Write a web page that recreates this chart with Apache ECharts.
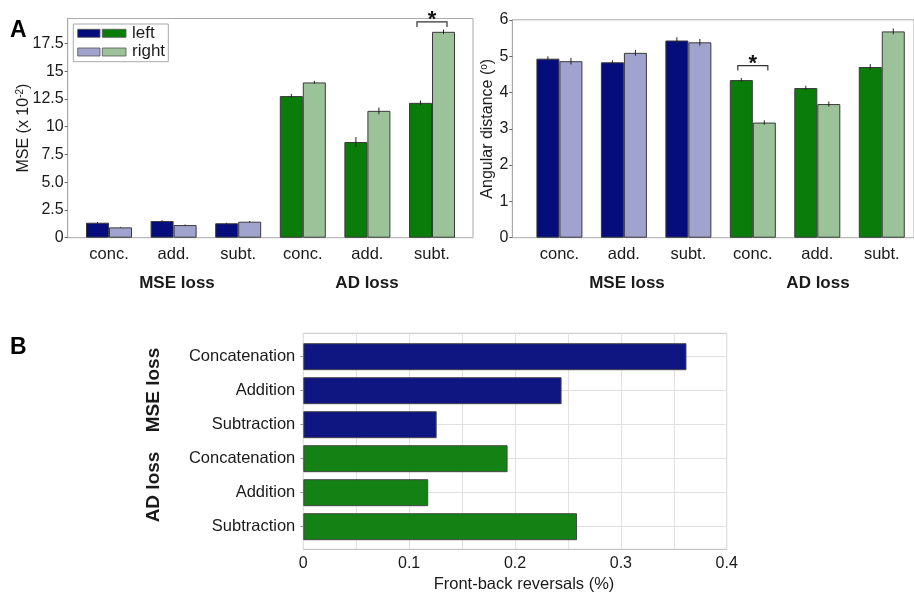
<!DOCTYPE html>
<html>
<head>
<meta charset="utf-8">
<script src="https://cdn.jsdelivr.net/npm/echarts@6/dist/echarts.min.js"></script>
<style>
  html, body { margin: 0; padding: 0; background: #fff; }
  #chart { width: 914px; height: 592px; }
</style>
</head>
<body>
<div id="chart"></div>
<script>
// ---- data ----
const groups = ['conc.', 'add.', 'subt.', 'conc.', 'add.', 'subt.'];
const lossNames = ['MSE loss', 'AD loss'];

// MSE (x 10^-2), left / right ear
const mseLeft = [1.35, 1.50, 1.30, 12.76, 8.62, 12.15];
const mseRight = [0.93, 1.14, 1.44, 13.99, 11.43, 18.55];
const mseLeftErr = [0.06, 0.07, 0.05, 0.20, 0.45, 0.20];
const mseRightErr = [0.04, 0.05, 0.06, 0.14, 0.30, 0.20];
const mseTicks = ['0', '2.5', '5.0', '7.5', '10', '12.5', '15', '17.5'];
const mseSig = [[5, 19.44]];

// Angular distance (deg), left / right ear
const angLeft = [4.93, 4.83, 5.43, 4.34, 4.12, 4.70];
const angRight = [4.86, 5.09, 5.38, 3.17, 3.68, 5.68];
const angLeftErr = [0.065, 0.055, 0.09, 0.06, 0.065, 0.08];
const angRightErr = [0.09, 0.08, 0.09, 0.06, 0.07, 0.08];
const angTicks = ['0', '1', '2', '3', '4', '5', '6'];
const angSig = [[3, 4.74]];

// Front-back reversals (%)
const methods = ['Concatenation', 'Addition', 'Subtraction', 'Concatenation', 'Addition', 'Subtraction'];
const fbr = [0.362, 0.244, 0.126, 0.193, 0.118, 0.2586];
const fbrTicks = ['0', '0.1', '0.2', '0.3', '0.4'];

// ---- styling ----
const FONT = "'Liberation Sans', Arial, sans-serif";
const TXT = '#1a1a1a';
const FRAME = '#a9a9a9';
const NAVY = '#050c7c', NAVY_L = '#a0a3cd';
const GREEN = '#0a7c0a', GREEN_L = '#9cc29a';
const BAR_W = 23;

const leftColor = (p) => (p.dataIndex < 3 ? NAVY : GREEN);
const rightColor = (p) => (p.dataIndex < 3 ? NAVY_L : GREEN_L);

function errRender(offset) {
  return function (params, api) {
    const i = api.value(0), v = api.value(1), e = api.value(2);
    const a = api.coord([i, v + e]), b = api.coord([i, v - e]);
    const x = a[0] + offset;
    return { type: 'line', shape: { x1: x, y1: a[1], x2: x, y2: b[1] },
             style: { stroke: '#222', lineWidth: 1 } };
  };
}
function sigRender(params, api) {
  const p = api.coord([api.value(0), api.value(1)]);
  const hw = 15, leg = 5;
  return { type: 'group', children: [
    { type: 'polyline', shape: { points: [[p[0] - hw, p[1] + leg], [p[0] - hw, p[1]], [p[0] + hw, p[1]], [p[0] + hw, p[1] + leg]] },
      style: { stroke: '#333', lineWidth: 1.2, fill: null } },
    { type: 'text', style: { text: '*', x: p[0], y: p[1] + 9, align: 'center', verticalAlign: 'bottom',
      font: 'bold 22px ' + FONT, fill: '#111' } }
  ] };
}
const errData = (vals, errs) => vals.map((v, i) => [i, v, errs[i]]);

const hiddenValue = (min, max, gi) => ({ type: 'value', gridIndex: gi, min, max, show: false });

const NAME_STYLE = { fontSize: 16, fontFamily: FONT, color: TXT,
  rich: { sup: { fontSize: 10, fontFamily: FONT, color: TXT, verticalAlign: 'top', padding: [0, 0, 6, 0] } } };

// y axis carrying the frame's left line and the axis title
function nameY(gi, max, name, nameGap) {
  return {
    type: 'value', gridIndex: gi, min: 0, max,
    axisLine: { show: true, lineStyle: { color: FRAME } },
    axisTick: { show: false }, axisLabel: { show: false }, splitLine: { show: false },
    name, nameLocation: 'middle', nameRotate: 90, nameGap, nameTextStyle: NAME_STYLE
  };
}
// y axis carrying ticks and tick labels
function tickY(gi, max, interval, ticks) {
  return {
    type: 'value', gridIndex: gi, min: 0, max, interval,
    axisLine: { show: false },
    axisTick: { show: true, length: 3, inside: false, lineStyle: { color: '#666' } },
    splitLine: { show: false },
    axisLabel: { margin: 4, fontSize: 16, fontFamily: FONT, color: TXT,
      formatter: (v) => { const k = Math.round(v / interval); return ticks[k] !== undefined ? ticks[k] : ''; } }
  };
}
function groupX(gi) {
  return {
    type: 'category', gridIndex: gi, data: groups,
    axisLine: { show: false }, axisTick: { show: false },
    axisLabel: { margin: 8, fontSize: 16.5, fontFamily: FONT, color: TXT }
  };
}

const chart = echarts.init(document.getElementById('chart'), null, { renderer: 'canvas' });

// MSE panel: y pixel of 0 and of 17.5 given the frame range 0..19.75
const A_BOTTOM = 237.7, A_TOP = 18.5;
const mseTickTop = A_BOTTOM - (A_BOTTOM - A_TOP) * 17.5 / 19.75;

const option = {
  animation: false,
  backgroundColor: '#fff',
  grid: [
    // 0,1: MSE panel frame + bar area
    { left: 67.7, top: A_TOP, width: 405.3, height: A_BOTTOM - A_TOP, show: true, borderColor: FRAME, borderWidth: 1, backgroundColor: 'transparent' },
    { left: 76.7, top: A_TOP, width: 387.6, height: A_BOTTOM - A_TOP },
    // 2,3: angular distance panel frame + bar area
    { left: 512.3, top: 19.8, width: 410, height: 217.9, show: true, borderColor: FRAME, borderWidth: 1, backgroundColor: 'transparent' },
    { left: 527.2, top: 19.8, width: 388.2, height: 217.9 },
    // 4,5: front-back reversals frame + bar area
    { left: 303.3, top: 333.3, width: 423.4, height: 216, show: true, borderColor: '#c4c4c4', borderWidth: 1, backgroundColor: 'transparent' },
    { left: 303.3, top: 339.7, width: 423.4, height: 204 },
    // 6: MSE tick scale (0..17.5)
    { left: 67.7, top: mseTickTop, width: 405.3, height: A_BOTTOM - mseTickTop }
  ],
  xAxis: [
    hiddenValue(0, 1, 0),
    groupX(1),
    hiddenValue(0, 1, 2),
    groupX(3),
    {
      type: 'value', gridIndex: 4, min: 0, max: 0.4, interval: 0.05,
      axisLine: { show: true, lineStyle: { color: '#c4c4c4' } },
      axisTick: { show: false },
      splitLine: { show: true, lineStyle: { color: '#e1e1e1', width: 1 } },
      axisLabel: { margin: 6, fontSize: 16, fontFamily: FONT, color: TXT, showMaxLabel: true,
        formatter: (v) => { const k = Math.round(v / 0.05); return k % 2 === 0 ? fbrTicks[k / 2] : ''; } }
    },
    hiddenValue(0, 0.4, 5),
    hiddenValue(0, 1, 6)
  ],
  yAxis: [
    nameY(0, 19.75, 'MSE (x 10{sup|-2})', 36),
    hiddenValue(0, 19.75, 1),
    Object.assign(tickY(2, 6, 1, angTicks), {
      axisLine: { show: true, lineStyle: { color: FRAME } },
      name: 'Angular distance ({sup|o})', nameLocation: 'middle', nameRotate: 90, nameGap: 9, nameTextStyle: NAME_STYLE
    }),
    hiddenValue(0, 6, 3),
    hiddenValue(0, 1, 4),
    {
      type: 'category', gridIndex: 5, data: methods, inverse: true,
      axisLine: { show: false },
      axisTick: { show: true, length: 3, alignWithLabel: true, lineStyle: { color: '#999' } },
      splitLine: { show: true, alignWithLabel: true, lineStyle: { color: '#e1e1e1' } },
      axisLabel: { margin: 8, fontSize: 16.5, fontFamily: FONT, color: TXT }
    },
    tickY(6, 17.5, 2.5, mseTicks)
  ],
  series: [
    // MSE bars
    { type: 'bar', xAxisIndex: 1, yAxisIndex: 1, data: mseLeft, barWidth: BAR_W, barGap: '0%',
      itemStyle: { color: leftColor, borderColor: '#3a3a3a', borderWidth: 1 } },
    { type: 'bar', xAxisIndex: 1, yAxisIndex: 1, data: mseRight, barWidth: BAR_W, barGap: '0%',
      itemStyle: { color: rightColor, borderColor: '#3a3a3a', borderWidth: 1 } },
    { type: 'custom', xAxisIndex: 1, yAxisIndex: 1, data: errData(mseLeft, mseLeftErr), renderItem: errRender(-BAR_W / 2), z: 5 },
    { type: 'custom', xAxisIndex: 1, yAxisIndex: 1, data: errData(mseRight, mseRightErr), renderItem: errRender(BAR_W / 2), z: 5 },
    { type: 'custom', xAxisIndex: 1, yAxisIndex: 1, data: mseSig, renderItem: sigRender, clip: false, z: 6 },
    // angular distance bars
    { type: 'bar', xAxisIndex: 3, yAxisIndex: 3, data: angLeft, barWidth: BAR_W, barGap: '0%',
      itemStyle: { color: leftColor, borderColor: '#3a3a3a', borderWidth: 1 } },
    { type: 'bar', xAxisIndex: 3, yAxisIndex: 3, data: angRight, barWidth: BAR_W, barGap: '0%',
      itemStyle: { color: rightColor, borderColor: '#3a3a3a', borderWidth: 1 } },
    { type: 'custom', xAxisIndex: 3, yAxisIndex: 3, data: errData(angLeft, angLeftErr), renderItem: errRender(-BAR_W / 2), z: 5 },
    { type: 'custom', xAxisIndex: 3, yAxisIndex: 3, data: errData(angRight, angRightErr), renderItem: errRender(BAR_W / 2), z: 5 },
    { type: 'custom', xAxisIndex: 3, yAxisIndex: 3, data: angSig, renderItem: sigRender, clip: false, z: 6 },
    // front-back reversals
    { type: 'bar', xAxisIndex: 5, yAxisIndex: 5, data: fbr, barWidth: 27,
      itemStyle: { color: (p) => (p.dataIndex < 3 ? NAVY : GREEN), opacity: 0.96, borderColor: '#444', borderWidth: 1 } }
  ],
  graphic: [
    { type: 'text', left: 10, top: 19, style: { text: 'A', font: 'bold 23px ' + FONT, fill: '#000' } },
    { type: 'text', left: 10, top: 336, style: { text: 'B', font: 'bold 23px ' + FONT, fill: '#000' } },
    // ear legend
    { type: 'rect', shape: { x: 73.3, y: 24, width: 95, height: 37.7 }, style: { fill: '#fff', stroke: '#aaa', lineWidth: 1 }, z: 10 },
    { type: 'rect', shape: { x: 77.7, y: 29.3, width: 22.3, height: 8 }, style: { fill: NAVY, stroke: '#555', lineWidth: 0.8 }, z: 11 },
    { type: 'rect', shape: { x: 102.3, y: 29.3, width: 23.7, height: 8 }, style: { fill: GREEN, stroke: '#555', lineWidth: 0.8 }, z: 11 },
    { type: 'rect', shape: { x: 77.7, y: 48, width: 22.3, height: 8 }, style: { fill: NAVY_L, stroke: '#555', lineWidth: 0.8 }, z: 11 },
    { type: 'rect', shape: { x: 102.3, y: 48, width: 23.7, height: 8 }, style: { fill: GREEN_L, stroke: '#555', lineWidth: 0.8 }, z: 11 },
    { type: 'text', style: { text: 'left', x: 132, y: 33.5, verticalAlign: 'middle', font: '17px ' + FONT, fill: TXT }, z: 11 },
    { type: 'text', style: { text: 'right', x: 132, y: 51.5, verticalAlign: 'middle', font: '17px ' + FONT, fill: TXT }, z: 11 },
    // loss group captions
    { type: 'text', style: { text: lossNames[0], x: 177, y: 283, align: 'center', verticalAlign: 'middle', font: 'bold 17px ' + FONT, fill: TXT } },
    { type: 'text', style: { text: lossNames[1], x: 367, y: 283, align: 'center', verticalAlign: 'middle', font: 'bold 17px ' + FONT, fill: TXT } },
    { type: 'text', style: { text: lossNames[0], x: 627, y: 283, align: 'center', verticalAlign: 'middle', font: 'bold 17px ' + FONT, fill: TXT } },
    { type: 'text', style: { text: lossNames[1], x: 818, y: 283, align: 'center', verticalAlign: 'middle', font: 'bold 17px ' + FONT, fill: TXT } },
    { type: 'text', x: 153.5, y: 390, rotation: Math.PI / 2, style: { text: lossNames[0], x: 0, y: 0, align: 'center', verticalAlign: 'middle', font: 'bold 19px ' + FONT, fill: TXT } },
    { type: 'text', x: 153.5, y: 487, rotation: Math.PI / 2, style: { text: lossNames[1], x: 0, y: 0, align: 'center', verticalAlign: 'middle', font: 'bold 19px ' + FONT, fill: TXT } },
    { type: 'text', style: { text: 'Front-back reversals (%)', x: 524, y: 584, align: 'center', verticalAlign: 'middle', font: '16.5px ' + FONT, fill: TXT } }
  ]
};
chart.setOption(option);
</script>
</body>
</html>
